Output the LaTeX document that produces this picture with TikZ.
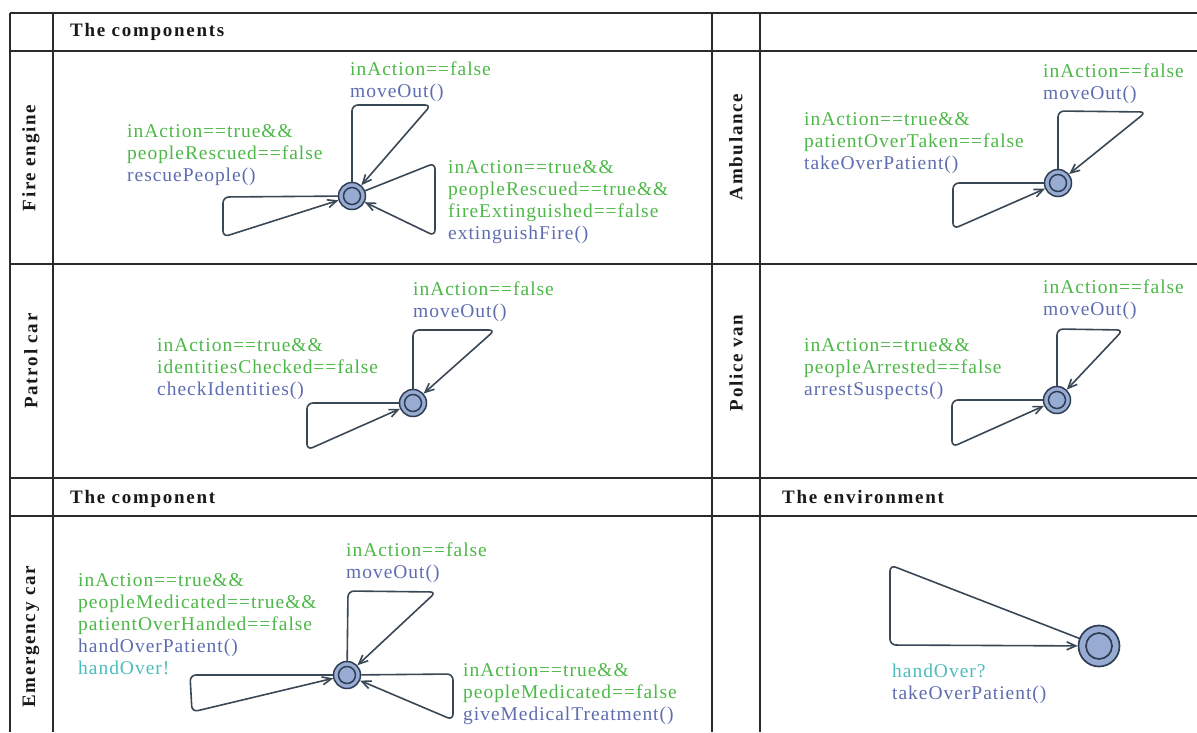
\documentclass[tikz,border=0pt]{standalone}
\usepackage{fontspec}
\setmainfont{Liberation Serif}
\newfontfamily\lblfont[LetterSpace=5]{Liberation Serif}
\newfontfamily\headfont[LetterSpace=9]{Liberation Serif}
\usetikzlibrary{arrows.meta}

\definecolor{guardc}{HTML}{4DB848}
\definecolor{updc}{HTML}{5E6DB0}
\definecolor{syncc}{HTML}{4CBDBA}
\definecolor{statefill}{HTML}{98ABD3}
\definecolor{statedraw}{HTML}{2E3D52}
\definecolor{edgec}{HTML}{3A4754}
\definecolor{gridc}{HTML}{2B2B2B}

\newcommand{\gd}[1]{\textcolor{guardc}{#1}}
\newcommand{\upd}[1]{\textcolor{updc}{#1}}
\newcommand{\syn}[1]{\textcolor{syncc}{#1}}

\begin{document}
\begin{tikzpicture}[x=1pt,y=-1pt,
  gridline/.style={draw=gridc, line width=1.6pt},
  lbl/.style={anchor=north west, inner sep=0pt, align=left,
    font=\lblfont\fontsize{19.5}{22}\selectfont},
  head/.style={anchor=base west, inner sep=0pt,
    font=\headfont\bfseries\fontsize{19}{22}\selectfont, text=black!90},
  rowname/.style={rotate=90, anchor=center, inner sep=0pt,
    font=\headfont\bfseries\fontsize{19}{22}\selectfont, text=black!90},
  state/.style={circle, draw=statedraw, fill=statefill, line width=1.5pt,
    minimum size=27pt, inner sep=0pt,
    path picture={\draw[statedraw, line width=1.5pt]
      (path picture bounding box.center) circle (8.5pt);}},
  bigstate/.style={circle, draw=statedraw, fill=statefill, line width=1.7pt,
    minimum size=41pt, inner sep=0pt,
    path picture={\draw[statedraw, line width=1.7pt]
      (path picture bounding box.center) circle (13pt);}},
  loopline/.style={draw=edgec, line width=1.6pt, rounded corners=6pt,
    -{Straight Barb[length=9pt,width=8pt]}}
]
\useasboundingbox (0,0) rectangle (1197,732);

% table rules
\foreach \yy in {13,51,264,478,516}
  \draw[gridline] (10,\yy) -- (1197,\yy);
\foreach \xx in {10,53,712,760}
  \draw[gridline] (\xx,13) -- (\xx,732);

% headings
\node[head] (h1) at (70,36.7) {The components};
\node[head] (h2) at (70,503.3) {The component};
\node[head] (h3) at (782,503.3) {The environment};

\node[rowname] (r1) at (31,158) {Fire engine};
\node[rowname] (r2) at (736,147) {Ambulance};
\node[rowname] (r3) at (31,361) {Patrol car};
\node[rowname] (r4) at (736,363) {Police van};
\node[rowname] (r5) at (31,637) {Emergency car};

% ---------- Fire engine ----------
\node[state] (F) at (352,196) {};
\draw[loopline] (F) -- (352,105) -- (431,105) -- (F);
\draw[loopline] (F) -- (223,197) -- (223,237) -- (F);
\draw[loopline] (F) -- (435,163) -- (435,236) -- (F);
\node[lbl] (F1) at (350,59.6) {\strut\gd{inAction==false}\\\upd{moveOut()}};
\node[lbl] (F2) at (127,121.6) {\strut\gd{inAction==true\&\&}\\\gd{peopleRescued==false}\\\upd{rescuePeople()}};
\node[lbl] (F3) at (448,158) {\strut\gd{inAction==true\&\&}\\\gd{peopleRescued==true\&\&}\\\gd{fireExtinguished==false}\\\upd{extinguishFire()}};

% ---------- Ambulance ----------
\node[state] (A) at (1058,183) {};
\draw[loopline] (A) -- (1058,111) -- (1146,112) -- (A);
\draw[loopline] (A) -- (953,183) -- (953,229) -- (A);
\node[lbl] (A1) at (1043,62) {\strut\gd{inAction==false}\\\upd{moveOut()}};
\node[lbl] (A2) at (804,109.6) {\strut\gd{inAction==true\&\&}\\\gd{patientOverTaken==false}\\\upd{takeOverPatient()}};

% ---------- Patrol car ----------
\node[state] (P) at (413,403) {};
\draw[loopline] (P) -- (413,330) -- (495,330) -- (P);
\draw[loopline] (P) -- (307,403) -- (307,450) -- (P);
\node[lbl] (P1) at (413,279.6) {\strut\gd{inAction==false}\\\upd{moveOut()}};
\node[lbl] (P2) at (157,336.3) {\strut\gd{inAction==true\&\&}\\\gd{identitiesChecked==false}\\\upd{checkIdentities()}};

% ---------- Police van ----------
\node[state] (V) at (1057,400) {};
\draw[loopline] (V) -- (1057,329) -- (1123,330) -- (V);
\draw[loopline] (V) -- (952,400) -- (952,447) -- (V);
\node[lbl] (V1) at (1043,278) {\strut\gd{inAction==false}\\\upd{moveOut()}};
\node[lbl] (V2) at (804,336.3) {\strut\gd{inAction==true\&\&}\\\gd{peopleArrested==false}\\\upd{arrestSuspects()}};

% ---------- Emergency car ----------
\node[state] (E) at (347,675) {};
\draw[loopline] (E) -- (348,591) -- (436,592) -- (E);
\draw[loopline] (E) -- (190,675) -- (192,712) -- (E);
\draw[loopline] (E) -- (453,674) -- (453,720) -- (E);
\node[lbl] (E1) at (346,540.6) {\strut\gd{inAction==false}\\\upd{moveOut()}};
\node[lbl] (E2) at (78,571.3) {\strut\gd{inAction==true\&\&}\\\gd{peopleMedicated==true\&\&}\\\gd{patientOverHanded==false}\\\upd{handOverPatient()}\\\syn{handOver!}};
\node[lbl] (E3) at (463,661.3) {\strut\gd{inAction==true\&\&}\\\gd{peopleMedicated==false}\\\upd{giveMedicalTreatment()}};

% ---------- Environment ----------
\node[bigstate] (N) at (1099,646) {};
\draw[loopline] (N) -- (890,565) -- (890,645) -- (N);
\node[lbl] (N1) at (892,662) {\strut\syn{handOver?}\\\upd{takeOverPatient()}};

\end{tikzpicture}
\end{document}
